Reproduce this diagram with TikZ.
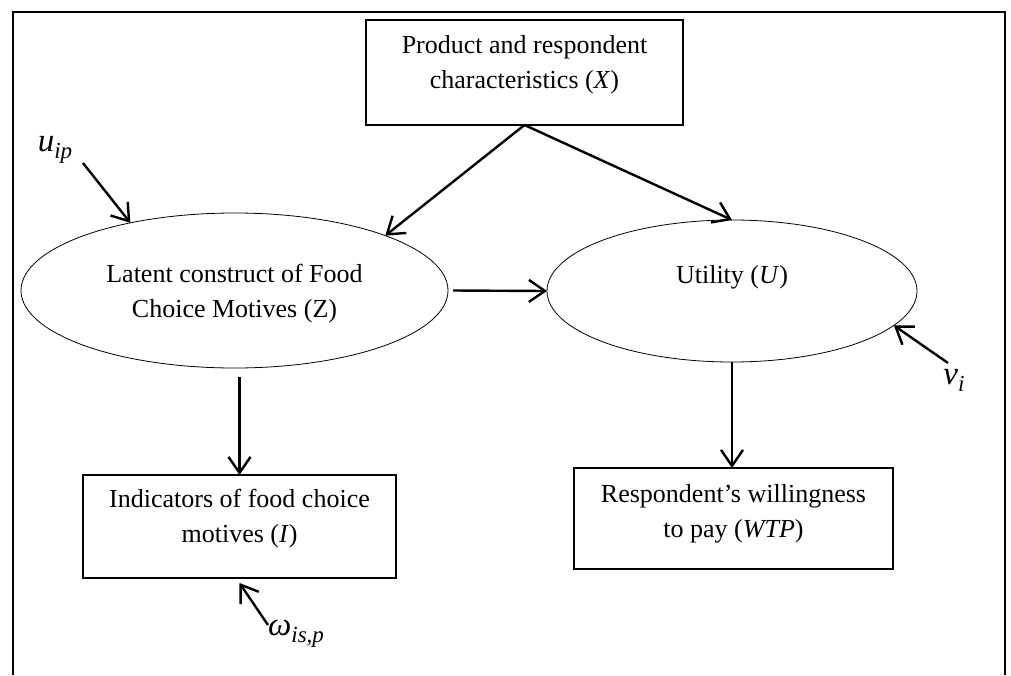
\documentclass[tikz,border=0pt]{standalone}
\usepackage{fontspec}
\setmainfont{Liberation Serif}
\usetikzlibrary{arrows.meta,shapes.geometric}
\begin{document}
\begin{tikzpicture}[x=1pt,y=-1pt,
  boxnode/.style={draw, line width=1.4pt, rectangle, inner sep=0pt, outer sep=0pt},
  ellnode/.style={draw, line width=0.8pt, ellipse, inner sep=0pt, outer sep=0pt},
  txt/.style={align=center, font=\fontsize{26}{35}\selectfont, inner sep=0pt},
  lbl/.style={font=\fontsize{33}{33}\selectfont, inner sep=0pt},
  sub/.style={},
  arr/.style={-{Straight Barb[length=16pt,width=22pt]}, line width=2.4pt}]
\useasboundingbox (0,0) rectangle (1011,675);
% frame
\draw[line width=2.2pt] (13,675) -- (13,12) -- (1005,12) -- (1005,675);
% boxes and ellipses
\node[boxnode, minimum width=317pt, minimum height=105pt] (X) at (524.5,72.5) {};
\node[txt] (Xt) at (524.5,64.5) {Product and respondent\\characteristics (\textit{X})};
\node[ellnode, minimum width=427pt, minimum height=155pt] (Z) at (234.5,290.5) {};
\node[txt] (Zt) at (234.5,293.5) {Latent construct of Food\\Choice Motives (Z)};
\node[ellnode, minimum width=370pt, minimum height=142pt] (U) at (732,291) {};
\node[txt] (Ut) at (732,277) {Utility (\textit{U})};
\node[boxnode, minimum width=313pt, minimum height=103pt] (I) at (239.5,526.5) {};
\node[txt] (It) at (239.5,519) {Indicators of food choice\\motives (\textit{I})};
\node[boxnode, minimum width=319pt, minimum height=101pt] (W) at (733.5,518.5) {};
\node[txt] (Wt) at (733.5,514) {Respondent’s willingness\\to pay (\textit{WTP})};
% error labels
\node[lbl] (uip) at (55,150) {\textit{u}\raisebox{-7pt}{\fontsize{23}{23}\selectfont\textit{ip}}};
\node[lbl] (vi) at (954,380) {\textit{v}\raisebox{-7pt}{\fontsize{23}{23}\selectfont\textit{i}}};
\node[lbl] (om) at (296,634) {\textit{ω}\raisebox{-7pt}{\fontsize{23}{23}\selectfont\textit{is,p}}};
\coordinate (us) at (83,163);
\coordinate (vs) at (948,363);
\coordinate (ws) at (268,625);
% connectors
\draw[arr] (X.south) -- (Z.20);
\draw[arr] (X.south) -- (U.north);
\draw[arr] ([xshift=5pt]Z.east) -- (U.west);
\draw[arr] ([yshift=-9pt]I.north |- Z.south) -- (I.north);
\draw[arr] (U.south) -- (U.south |- W.north);
\draw[arr] (us) -- (Z.147);
\draw[arr] (vs) -- (U.-12);
\draw[arr] (ws) -- ([yshift=-5pt]I.south);
\end{tikzpicture}
\end{document}
